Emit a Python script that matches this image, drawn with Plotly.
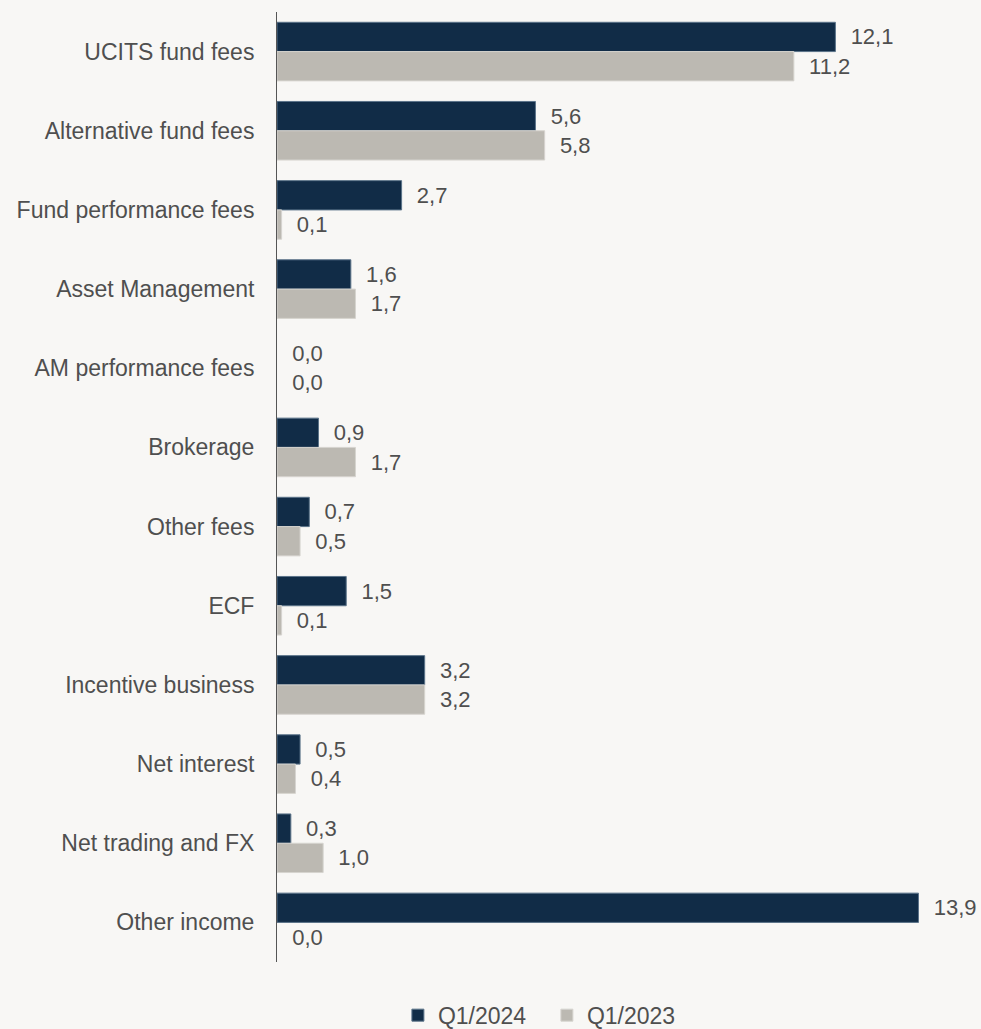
import plotly.graph_objects as go

categories = ["UCITS fund fees", "Alternative fund fees", "Fund performance fees",
              "Asset Management", "AM performance fees", "Brokerage", "Other fees",
              "ECF", "Incentive business", "Net interest", "Net trading and FX",
              "Other income"]
q1_2024 = [12.1, 5.6, 2.7, 1.6, 0.0, 0.9, 0.7, 1.5, 3.2, 0.5, 0.3, 13.9]
q1_2023 = [11.2, 5.8, 0.1, 1.7, 0.0, 1.7, 0.5, 0.1, 3.2, 0.4, 1.0, 0.0]

FONT = "Liberation Sans"
TXT = "#4f4f4f"
BG = "#f8f7f5"
FS = 22

def line_widths(vals):
    return [0 if v == 0 else 1 for v in vals]

fig = go.Figure()
fig.add_trace(go.Bar(
    y=categories, x=q1_2024, orientation="h", name="Q1/2024",
    marker=dict(color="#112c47", line=dict(color="#5b7389", width=line_widths(q1_2024))),
    texttemplate="\u00a0\u00a0%{x:.1f}", textposition="outside",
    textfont=dict(family=FONT, size=FS, color=TXT),
    cliponaxis=False, constraintext="none",
))
fig.add_trace(go.Bar(
    y=categories, x=q1_2023, orientation="h", name="Q1/2023",
    marker=dict(color="#bcb9b2", line=dict(color="#d6d4cf", width=line_widths(q1_2023))),
    texttemplate="\u00a0\u00a0%{x:.1f}", textposition="outside",
    textfont=dict(family=FONT, size=FS, color=TXT),
    cliponaxis=False, constraintext="none",
))

fig.update_layout(
    width=981, height=1029,
    margin=dict(l=277, r=21, t=12, b=67, autoexpand=False),
    paper_bgcolor=BG, plot_bgcolor=BG,
    barmode="group", bargap=0.26, bargroupgap=0,
    separators=", ",
    font=dict(family=FONT, size=FS, color=TXT),
    xaxis=dict(range=[0, 14.8], visible=False, showgrid=False, zeroline=False),
    yaxis=dict(autorange="reversed", showline=True, linecolor="#555555", linewidth=1,
               showgrid=False, ticks="", ticklabelstandoff=17,
               tickfont=dict(family=FONT, size=23, color=TXT)),
    legend=dict(orientation="h", x=0.177, xanchor="left", y=-0.056, yanchor="middle",
                font=dict(family=FONT, size=23, color=TXT),
                bgcolor="rgba(0,0,0,0)", entrywidth=104, itemwidth=30),
    showlegend=True,
)

fig.write_html("out.html", config={"displayModeBar": False},
               post_script="document.body.style.margin='0';document.body.style.overflow='hidden';")
